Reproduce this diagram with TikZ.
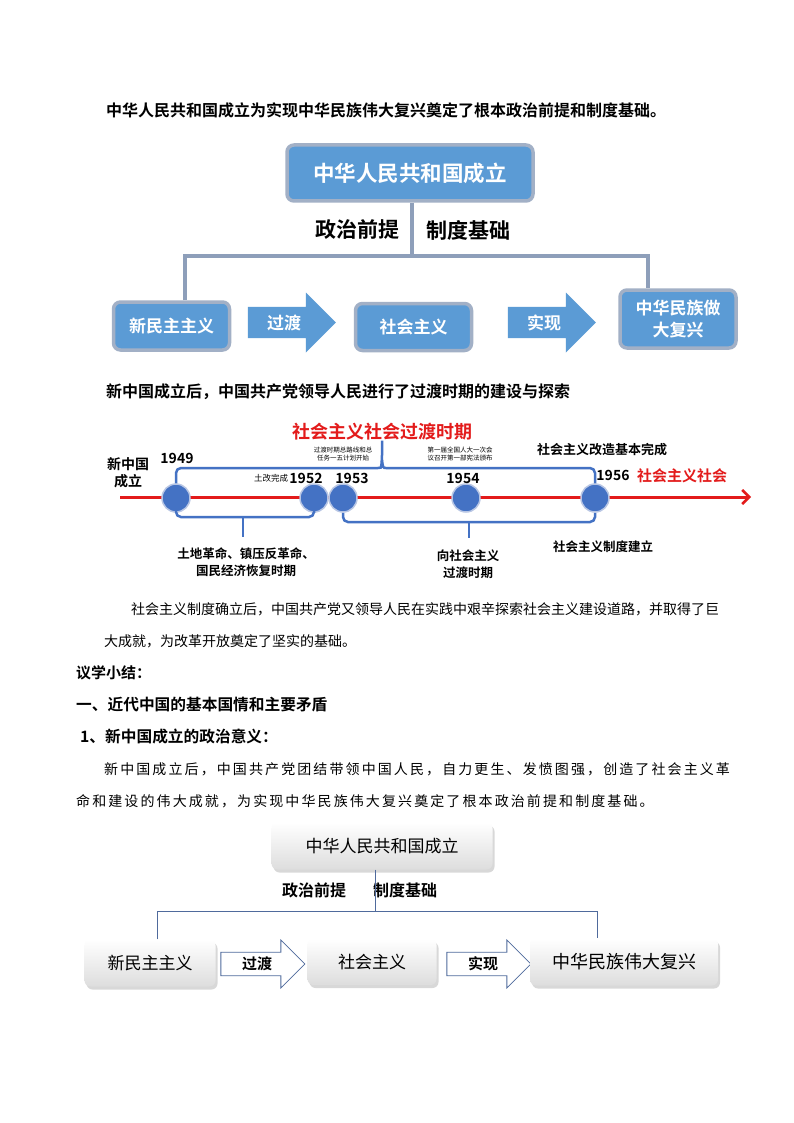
\documentclass[tikz,border=0pt]{standalone}
\usepackage{fontspec}
\setmainfont{Noto Sans CJK SC}[BoldFont={Noto Sans CJK SC Bold}]
\usepackage{xcolor}
\usepackage{tikz}
\usetikzlibrary{positioning, arrows.meta, shapes.arrows, shadows, calc}
\definecolor{dgblue}{HTML}{5B9BD5}
\definecolor{dgframe}{HTML}{A2B0C6}
\definecolor{dgline}{HTML}{8E9FBA}
\definecolor{tlred}{HTML}{E31B1B}
\definecolor{tlblue}{HTML}{4472C4}
\definecolor{tlring}{HTML}{B8C6E4}
\definecolor{pcline}{HTML}{4F6A9C}
\definecolor{pcshade}{HTML}{DDDDDD}

\begin{document}
\begin{tikzpicture}[x=1pt, y=-1pt,
  txt/.style={anchor=west, inner sep=0pt, font=\fontsize{14}{14}\selectfont},
  txtb/.style={anchor=west, inner sep=0pt, font=\fontsize{16}{16}\selectfont\bfseries},
  spread/.style={anchor=west, inner sep=0pt,
    font=\fontsize{14}{14}\selectfont\addfontfeature{LetterSpace=15}},
  bluebox/.style={
    rectangle, rounded corners=7pt, draw=dgframe, line width=3.5pt,
    fill=dgblue, text=white, align=center,
    font=\fontsize{17}{22}\selectfont\bfseries
  },
  bluearrow/.style={
    single arrow, single arrow head extend=12.5pt, single arrow head indent=0pt,
    fill=dgblue, text=white, inner xsep=0pt, inner ysep=5.5pt,
    minimum width=60pt, minimum height=88pt,
    font=\fontsize{17}{17}\selectfont\bfseries
  },
  link/.style={dgline, line width=3.5pt},
  tag/.style={inner sep=0pt, font=\fontsize{21}{21}\selectfont\bfseries},
  tlline/.style={tlred, line width=3pt,
    -{Straight Barb[length=7pt, width=14pt, line width=2.5pt]}},
  dot/.style={circle, fill=tlblue, draw=tlring, line width=1.5pt,
    minimum size=28pt, inner sep=0pt},
  brace/.style={tlblue, line width=2.5pt, rounded corners=5pt},
  yr/.style={inner sep=0pt, font=\fontsize{14}{14}\selectfont\bfseries},
  note/.style={inner sep=0pt, align=center, font=\fontsize{12.5}{17}\selectfont\bfseries},
  tiny/.style={inner sep=0pt, align=center, font=\fontsize{6.5}{8.5}\selectfont},
  redtag/.style={inner sep=0pt, text=tlred, font=\fontsize{18}{18}\selectfont\bfseries},
  whitebox/.style={
    rectangle, rounded corners=6pt, top color=white, bottom color=pcshade,
    align=center, font=\fontsize{17}{17}\selectfont,
    drop shadow={shadow xshift=2pt, shadow yshift=-3pt, opacity=0.3}
  },
  outarrow/.style={
    single arrow, single arrow head extend=11pt, single arrow head indent=0pt,
    draw=pcline, fill=white, line width=0.8pt, inner xsep=0pt, inner ysep=3pt,
    minimum width=48pt, minimum height=84pt,
    font=\fontsize{15}{15}\selectfont\bfseries
  },
  thinlink/.style={pcline, line width=0.8pt},
]

\fill[white] (0,0) rectangle (794,1123);
\useasboundingbox (0,0) rectangle (794,1123);

% --- Heading ---
\node[txtb] (head1) at (106,110) {中华人民共和国成立为实现中华民族伟大复兴奠定了根本政治前提和制度基础。};

% --- Diagram 1 ---
\node[bluebox, minimum width=246pt, minimum height=56pt, font=\fontsize{21.5}{21.5}\selectfont\bfseries]
  (prc) at (410,173) {中华人民共和国成立};
\node[tag] (zz) at (357,230) {政治前提};
\node[tag] (zd) at (468,230) {制度基础};
\coordinate (hub) at (412,256);

\node[bluebox, minimum width=116pt, minimum height=48pt] (xmz) at (171.5,326) {新民主主义};
\node[bluearrow] (gd) at (284,322.5) {过渡};
\node[bluebox, minimum width=116pt, minimum height=47pt] (shz) at (413.5,327) {社会主义};
\node[bluearrow] (sx) at (544,322.5) {实现};
\node[bluebox, minimum width=116pt, minimum height=58pt] (fx) at (678,319) {中华民族做\\大复兴};

\draw[link] (prc.south -| hub) -- (hub);
\draw[link] ([xshift=13.5pt]xmz.north) |- (hub) -| ([xshift=-30pt]fx.north);

% --- Heading 2 ---
\node[txtb] (head2) at (106,392) {新中国成立后，中国共产党领导人民进行了过渡时期的建设与探索};

% --- Timeline ---
\node[redtag] (tltitle) at (382,432) {社会主义社会过渡时期};
\coordinate (tlstart) at (120,497);
\coordinate (tlend) at (751,497);
\draw[tlline] (tlstart) -- (tlend);

\node[dot] (d49) at (176,498) {};
\node[dot] (d52) at (314,498) {};
\node[dot] (d53) at (343,498) {};
\node[dot] (d54) at (466,498) {};
\node[dot] (d56) at (595,498) {};

\node[yr] (y49) at (177,458) {1949};
\node[yr] (y52) at (306,478) {1952};
\node[yr] (y53) at (352,478) {1953};
\node[yr] (y54) at (463,478) {1954};
\node[yr] (y56) at (613,475) {1956};
\node[inner sep=0pt, font=\fontsize{8.5}{8.5}\selectfont, left=1pt of y52] (tgwc) {土改完成};
\node[yr, align=center, font=\fontsize{14}{17}\selectfont\bfseries] (xzg) at (128,473) {新中国\\成立};
\node[redtag, font=\fontsize{15}{15}\selectfont\bfseries] (shsh) at (682,476) {社会主义社会};

\node[tiny] (zlx) at (343,454) {过渡时期总路线和总\\任务一五计划开始};
\node[tiny] (rd) at (460,454) {第一届全国人大一次会\\议召开第一部宪法颁布};
\node[note, font=\fontsize{13}{13}\selectfont\bfseries] (gzwc) at (602,450) {社会主义改造基本完成};

% top brace
\coordinate (peak) at (382,460);
\draw[brace] (d49.north) |- ($(peak)+(-9,8)$) .. controls ($(peak)+(-1,8)$) .. (peak) -- (tltitle.south);
\draw[brace] (peak) .. controls ($(peak)+(1,8)$) .. ($(peak)+(9,8)$) -| (d56.north);

% bottom braces
\coordinate (drop1) at (243,517);
\coordinate (drop2) at (469,522);
\draw[brace] (d49.south) |- (drop1) -| (d52.south);
\draw[brace] (drop1) -- ++(0,20);
\draw[brace] (d53.south) |- (drop2) -| (d56.south);
\draw[brace] (drop2) -- ++(0,16);

\node[note] (tdgm) at (246,562) {土地革命、镇压反革命、\\国民经济恢复时期};
\node[note] (xshz) at (468,564) {向社会主义\\过渡时期};
\node[note] (zdjl) at (603,547) {社会主义制度建立};

% --- Body text ---
\node[txt] (p1a) at (131,609) {社会主义制度确立后，中国共产党又领导人民在实践中艰辛探索社会主义建设道路，并取得了巨};
\node[txt] (p1b) at (104,641) {大成就，为改革开放奠定了坚实的基础。};
\node[txtb, font=\fontsize{15}{15}\selectfont\bfseries] (yx) at (76,673) {议学小结：};
\node[txtb, font=\fontsize{15.7}{15.7}\selectfont\bfseries] (h1) at (76,705) {一、近代中国的基本国情和主要矛盾};
\node[txtb, font=\fontsize{15.7}{15.7}\selectfont\bfseries] (h2) at (80,737) {1、新中国成立的政治意义：};
\node[spread] (p2a) at (104,769) {新中国成立后，中国共产党团结带领中国人民，自力更生、发愤图强，创造了社会主义革};
\node[spread] (p2b) at (76,801) {命和建设的伟大成就，为实现中华民族伟大复兴奠定了根本政治前提和制度基础。};

% --- Diagram 2 ---
\node[whitebox, minimum width=221pt, minimum height=47pt] (prc2) at (382,846) {中华人民共和国成立};
\node[yr, font=\fontsize{16}{16}\selectfont\bfseries] (zz2) at (314,890) {政治前提};
\node[yr, font=\fontsize{16}{16}\selectfont\bfseries] (zd2) at (405,890) {制度基础};
\coordinate (hub2) at (375,911);

\node[whitebox, minimum width=131pt, minimum height=47pt] (xmz2) at (150,963) {新民主主义};
\node[outarrow] (gd2) at (257,964) {过渡};
\node[whitebox, minimum width=129pt, minimum height=46pt] (shz2) at (372,962) {社会主义};
\node[outarrow] (sx2) at (483,964) {实现};
\node[whitebox, minimum width=188pt, minimum height=47pt, font=\fontsize{18}{18}\selectfont] (fx2) at (624,962) {中华民族伟大复兴};

\draw[thinlink] (prc2.south -| hub2) -- (hub2);
\draw[thinlink] ([xshift=7pt]xmz2.north) |- (hub2) -| ([xshift=-27pt]fx2.north);

\end{tikzpicture}
\end{document}
